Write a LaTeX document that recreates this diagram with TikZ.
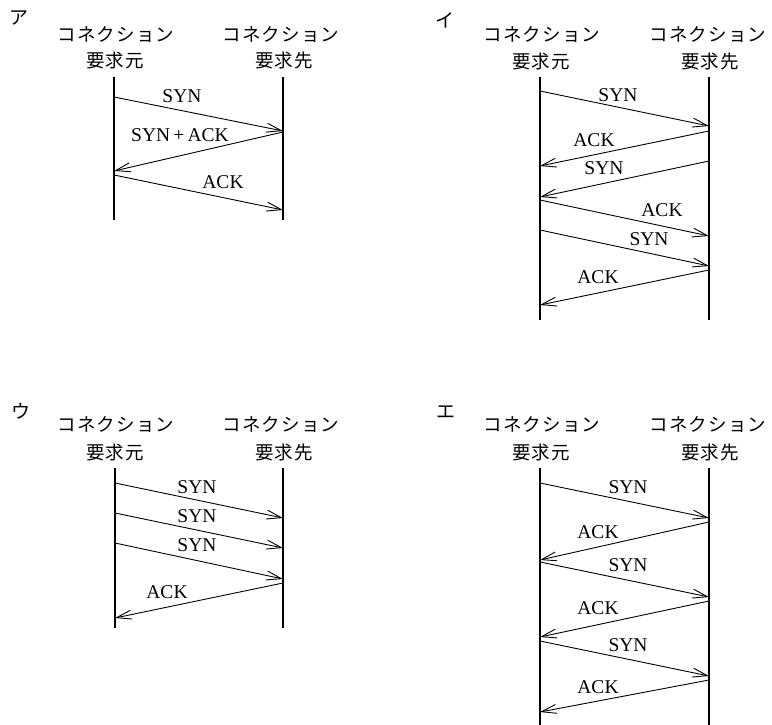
\documentclass[tikz,border=0pt]{standalone}
\usepackage{fontspec}
\setmainfont{Liberation Serif}
\newfontfamily\cjk[LetterSpace=6]{Noto Sans CJK JP}
\newfontfamily\cjkplain{Noto Sans CJK JP}
\usetikzlibrary{arrows.meta}
\tikzset{
  life/.style={line width=1.2pt},
  msg/.style={line width=0.9pt,-{Straight Barb[length=15pt,width=9pt,line width=0.9pt]}},
  hdr/.style={font=\cjk\fontsize{18.5}{18.5}\selectfont,inner sep=0pt},
  lbl/.style={font=\fontsize{19.5}{19.5}\selectfont,inner sep=0pt},
  tag/.style={font=\cjkplain\fontsize{19}{19}\selectfont,inner sep=0pt}
}
\begin{document}
\begin{tikzpicture}[x=1pt,y=-1pt]
\useasboundingbox (0,0) rectangle (772,725);
% ---------------- panel A ----------------
\node[tag] (ta) at (19,18) {ア};
\node[hdr] (ah1) at (116,35) {コネクション};
\node[hdr] (ah2) at (115,61) {要求元};
\node[hdr] (ah3) at (281,35) {コネクション};
\node[hdr] (ah4) at (284,61) {要求先};
\coordinate (aLt) at (114,77); \coordinate (aLb) at (114,220);
\coordinate (aRt) at (283,77); \coordinate (aRb) at (283,220);
\draw[life] (aLt) -- (aLb);
\draw[life] (aRt) -- (aRb);
\coordinate (a1s) at (114,97);  \coordinate (a1e) at (283,131);
\coordinate (a2s) at (283,132); \coordinate (a2e) at (114,171);
\coordinate (a3s) at (114,175); \coordinate (a3e) at (283,210);
\draw[msg] (a1s) -- (a1e);
\draw[msg] (a2s) -- (a2e);
\draw[msg] (a3s) -- (a3e);
\node[lbl] (al1) at (182,96) {SYN};
\node[lbl] (al2) at (180,135) {SYN\,+\,ACK};
\node[lbl] (al3) at (223,182) {ACK};
% ---------------- panel I ----------------
\node[tag] (ti) at (445,20) {イ};
\node[hdr] (ih1) at (542,35) {コネクション};
\node[hdr] (ih2) at (541,62) {要求元};
\node[hdr] (ih3) at (708,35) {コネクション};
\node[hdr] (ih4) at (710,62) {要求先};
\coordinate (iLt) at (540,77); \coordinate (iLb) at (540,320);
\coordinate (iRt) at (709,77); \coordinate (iRb) at (709,320);
\draw[life] (iLt) -- (iLb);
\draw[life] (iRt) -- (iRb);
\coordinate (i1s) at (540,91);  \coordinate (i1e) at (709,126);
\coordinate (i2s) at (709,131); \coordinate (i2e) at (540,166);
\coordinate (i3s) at (709,161); \coordinate (i3e) at (540,197);
\coordinate (i4s) at (540,200); \coordinate (i4e) at (709,236);
\coordinate (i5s) at (540,230); \coordinate (i5e) at (709,266);
\coordinate (i6s) at (709,270); \coordinate (i6e) at (540,305);
\draw[msg] (i1s) -- (i1e);
\draw[msg] (i2s) -- (i2e);
\draw[msg] (i3s) -- (i3e);
\draw[msg] (i4s) -- (i4e);
\draw[msg] (i5s) -- (i5e);
\draw[msg] (i6s) -- (i6e);
\node[lbl] (il1) at (618,95) {SYN};
\node[lbl] (il2) at (594,140) {ACK};
\node[lbl] (il3) at (604,168) {SYN};
\node[lbl] (il4) at (662,210) {ACK};
\node[lbl] (il5) at (649,239) {SYN};
\node[lbl] (il6) at (598,277) {ACK};
% ---------------- panel U ----------------
\node[tag] (tu) at (21,411) {ウ};
\node[hdr] (uh1) at (116,425) {コネクション};
\node[hdr] (uh2) at (115,453) {要求元};
\node[hdr] (uh3) at (281,425) {コネクション};
\node[hdr] (uh4) at (284,453) {要求先};
\coordinate (uLt) at (115,468); \coordinate (uLb) at (115,628);
\coordinate (uRt) at (283,468); \coordinate (uRb) at (283,628);
\draw[life] (uLt) -- (uLb);
\draw[life] (uRt) -- (uRb);
\coordinate (u1s) at (115,483); \coordinate (u1e) at (283,518);
\coordinate (u2s) at (115,513); \coordinate (u2e) at (283,548);
\coordinate (u3s) at (115,543); \coordinate (u3e) at (283,579);
\coordinate (u4s) at (283,583); \coordinate (u4e) at (115,618);
\draw[msg] (u1s) -- (u1e);
\draw[msg] (u2s) -- (u2e);
\draw[msg] (u3s) -- (u3e);
\draw[msg] (u4s) -- (u4e);
\node[lbl] (ul1) at (197,487) {SYN};
\node[lbl] (ul2) at (197,516) {SYN};
\node[lbl] (ul3) at (197,545) {SYN};
\node[lbl] (ul4) at (167,592) {ACK};
% ---------------- panel E ----------------
\node[tag] (te) at (446,412) {エ};
\node[hdr] (eh1) at (542,425) {コネクション};
\node[hdr] (eh2) at (541,453) {要求元};
\node[hdr] (eh3) at (708,425) {コネクション};
\node[hdr] (eh4) at (710,453) {要求先};
\coordinate (eLt) at (540,468); \coordinate (eLb) at (540,725);
\coordinate (eRt) at (709,468); \coordinate (eRb) at (709,725);
\draw[life] (eLt) -- (eLb);
\draw[life] (eRt) -- (eRb);
\coordinate (e1s) at (540,483); \coordinate (e1e) at (709,518);
\coordinate (e2s) at (709,522); \coordinate (e2e) at (540,560);
\coordinate (e3s) at (540,562); \coordinate (e3e) at (709,597);
\coordinate (e4s) at (709,601); \coordinate (e4e) at (540,637);
\coordinate (e5s) at (540,641); \coordinate (e5e) at (709,676);
\coordinate (e6s) at (709,680); \coordinate (e6e) at (540,712);
\draw[msg] (e1s) -- (e1e);
\draw[msg] (e2s) -- (e2e);
\draw[msg] (e3s) -- (e3e);
\draw[msg] (e4s) -- (e4e);
\draw[msg] (e5s) -- (e5e);
\draw[msg] (e6s) -- (e6e);
\node[lbl] (el1) at (628,487) {SYN};
\node[lbl] (el2) at (598,532) {ACK};
\node[lbl] (el3) at (628,565) {SYN};
\node[lbl] (el4) at (598,608) {ACK};
\node[lbl] (el5) at (628,645) {SYN};
\node[lbl] (el6) at (598,687) {ACK};
\end{tikzpicture}
\end{document}
